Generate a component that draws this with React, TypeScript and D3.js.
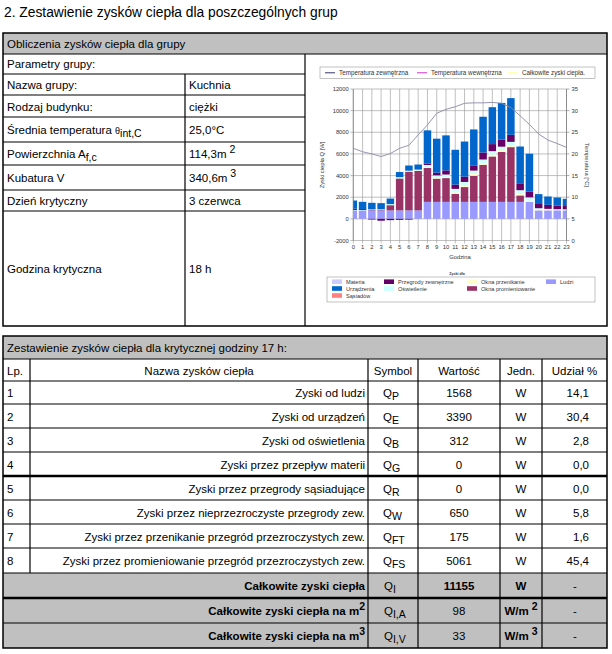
import React from "react";
import * as d3 from "d3";

const FONT = "'Liberation Sans', Arial, sans-serif";
const GRAY = "#c0c0c0";

// Dane wykresu: godziny i zyski ciepła [W] dla kolejnych składowych
const hours = [0, 1, 2, 3, 4, 5, 6, 7, 8, 9, 10, 11, 12, 13, 14, 15, 16, 17, 18, 19, 20, 21, 22, 23];
const ludzi = [784, 784, 784, 784, 784, 784, 784, 784, 1568, 1568, 1568, 1568, 1568, 1568, 1568, 1568, 1568, 1568, 1568, 1568, 784, 784, 784, 784];
const oknaProm = [0, 0, 60, 80, 480, 2950, 3570, 3650, 3130, 2150, 2200, 750, 1370, 2410, 3430, 4200, 4610, 5061, 600, 0, 0, 0, 0, 0];
const oknaPrzen = [0, 0, 0, 0, 0, 0, 20, 40, 60, 80, 100, 140, 160, 170, 175, 178, 180, 175, 170, 120, 60, 30, 10, 0];
const oswietl = [40, 40, 40, 40, 100, 120, 80, 80, 220, 220, 230, 312, 312, 312, 312, 312, 312, 312, 312, 300, 140, 110, 100, 100];
const przegrody = [120, 80, -60, -170, -120, -90, -70, 0, 120, 250, 380, 400, 490, 440, 650, 650, 650, 650, 580, 540, 460, 370, 340, 300];
const urzadzenia = [751, 670, 598, 549, 512, 472, 476, 466, 3080, 3140, 3237, 3212, 3245, 3362, 3300, 3410, 3394, 3390, 3455, 3490, 843, 771, 738, 668];
const materia = [0, 0, 0, 0, 0, 0, 0, 0, 0, 0, 0, 0, 0, 0, 0, 0, 0, 0, 0, 0, 0, 0, 0, 0];
const sasiadow = [0, 0, 0, 0, 0, 0, 0, 0, 0, 0, 0, 0, 0, 0, 0, 0, 0, 0, 0, 0, 0, 0, 0, 0];
// Temperatura zewnętrzna [°C]
const tempZew = [21.3, 20.5, 20.0, 19.4, 20.1, 21.3, 22.0, 24.4, 26.7, 29.4, 30.3, 30.9, 31.7, 31.8, 31.8, 31.9, 31.7, 30.7, 28.8, 26.8, 24.6, 23.2, 22.4, 21.5];

// kolejność stosu (od dołu)
const series = [
  { key: "ludzi", label: "Ludzi", color: "#9999ff", values: ludzi },
  { key: "oknaProm", label: "Okna promieniowanie", color: "#993366", values: oknaProm },
  { key: "oknaPrzen", label: "Okna przenikanie", color: "#ffffcc", values: oknaPrzen },
  { key: "oswietl", label: "Oświetlenie", color: "#ccffff", values: oswietl },
  { key: "przegrody", label: "Przegrody zewnętrzne", color: "#660066", values: przegrody },
  { key: "urzadzenia", label: "Urządzenia", color: "#0066cc", values: urzadzenia },
  { key: "materia", label: "Materia", color: "#ccccff", values: materia },
  { key: "sasiadow", label: "Sąsiadów", color: "#ff8080", values: sasiadow },
];

// układ legendy dolnej: [klucz, kolumna, wiersz]
const legendLayout = [
  ["materia", 0, 0], ["urzadzenia", 0, 1], ["sasiadow", 0, 2],
  ["przegrody", 1, 0], ["oswietl", 1, 1],
  ["oknaPrzen", 2, 0], ["oknaProm", 2, 1],
  ["ludzi", 3, 0],
];

const topLegend = [
  { label: "Temperatura zewnętrzna", color: "#333366" },
  { label: "Temperatura wewnętrzna", color: "#cc33cc" },
  { label: "Całkowite zyski ciepła.", color: "#ffff99" },
];

// Tabela parametrów grupy
const paramLabels = ["Nazwa grupy:", "Rodzaj budynku:", "Średnia temperatura", "Powierzchnia", "Kubatura V", "Dzień krytyczny", "Godzina krytyczna"];
const paramValues = ["Kuchnia", "ciężki", "25,0°C", "114,3m", "340,6m", "3 czerwca", "18 h"];

// Tabela zysków dla godziny krytycznej
const gainNames = [
  "Zyski od ludzi",
  "Zyski od urządzeń",
  "Zyski od oświetlenia",
  "Zyski przez przepływ materii",
  "Zyski przez przegrody sąsiadujące",
  "Zyski  przez nieprzezroczyste przegrody zew.",
  "Zyski przez przenikanie przegród przezroczystych  zew.",
  "Zyski przez promieniowanie przegród przezroczystych zew.",
];
const gainSymbols = ["P", "E", "B", "G", "R", "W", "FT", "FS"];
const gainValues = [1568, 3390, 312, 0, 0, 650, 175, 5061];
const gainShares = ["14,1", "30,4", "2,8", "0,0", "0,0", "5,8", "1,6", "45,4"];
const totalRows = [
  { name: "Całkowite zyski ciepła", sup: "", sym: "I", value: "11155", unit: "W", unitSup: "", bold: true },
  { name: "Całkowite zyski ciepła na m", sup: "2", sym: "I,A", value: "98", unit: "W/m", unitSup: "2", bold: false },
  { name: "Całkowite zyski ciepła na m", sup: "3", sym: "I,V", value: "33", unit: "W/m", unitSup: "3", bold: false },
];

const Chart = () => {
  const left = 353.3, right = 566.5, top = 89, bottom = 240.5;
  const x = d3.scalePoint<number>().domain(hours).range([left, right]);
  const yL = d3.scaleLinear().domain([-2000, 12000]).range([bottom, top]);
  const yR = d3.scaleLinear().domain([0, 35]).range([bottom, top]);

  const table = hours.map((h, i) => {
    const row: any = { hour: h };
    series.forEach((s) => (row[s.key] = s.values[i]));
    return row;
  });
  const stacked = d3
    .stack<any>()
    .keys(series.map((s) => s.key))
    .offset(d3.stackOffsetDiverging)(table);

  const bw = 7.5;
  const line = d3
    .line<number>()
    .x((_, i) => x(hours[i]) as number)
    .y((d) => yR(d));

  const tickColor = "#333";
  const gridColor = "#959595";
  const colX = [332, 384, 467, 546];
  const rowY = [281.7, 288.5, 295.5];

  return (
    <g fontFamily={FONT}>
      {/* legenda górna */}
      <rect x={320} y={67} width={275} height={11.5} fill="#fff" stroke="#999" strokeWidth={0.6} />
      {topLegend.map((d, i) => {
        const lx = [325, 417, 508][i];
        return (
          <g key={d.label}>
            <line x1={lx} x2={lx + 10} y1={72.8} y2={72.8} stroke={d.color} strokeWidth={1} />
            <text x={lx + 14} y={75} fontSize={6.3} fill="#333">{d.label}</text>
          </g>
        );
      })}

      {/* siatka */}
      {yL.ticks(7).map((t) => (
        <g key={"yl" + t}>
          <line x1={left - 3} x2={right} y1={yL(t)} y2={yL(t)} stroke={gridColor} strokeWidth={0.6} />
          <text x={left - 4.5} y={yL(t) + 2} fontSize={5.8} textAnchor="end" fill={tickColor}>{t}</text>
        </g>
      ))}
      {yR.ticks(7).map((t) => (
        <g key={"yr" + t}>
          <line x1={right} x2={right + 3} y1={yR(t)} y2={yR(t)} stroke="#777" strokeWidth={0.6} />
          <text x={right + 5} y={yR(t) + 2} fontSize={5.8} fill={tickColor}>{t}</text>
        </g>
      ))}
      {hours.map((h) => (
        <g key={"x" + h}>
          <line x1={x(h)} x2={x(h)} y1={top} y2={bottom + 3} stroke={gridColor} strokeWidth={0.6} />
          <text x={x(h)} y={bottom + 8.5} fontSize={5.8} textAnchor="middle" fill={tickColor}>{h}</text>
        </g>
      ))}
      <line x1={left} x2={left} y1={top} y2={bottom} stroke="#777" strokeWidth={0.7} />
      <line x1={right} x2={right} y1={top} y2={bottom} stroke="#777" strokeWidth={0.7} />

      {/* słupki */}
      <defs>
        <clipPath id="plot-clip">
          <rect x={left} y={top} width={right - left} height={bottom - top} />
        </clipPath>
      </defs>
      <g clipPath="url(#plot-clip)">
        {stacked.map((layer, li) =>
          layer.map((d, i) => {
            const y0 = yL(d[0]);
            const y1 = yL(d[1]);
            const hgt = Math.abs(y0 - y1);
            if (hgt <= 0) return null;
            return (
              <rect
                key={li + "-" + i}
                x={(x(hours[i]) as number) - bw / 2}
                y={Math.min(y0, y1)}
                width={bw}
                height={hgt}
                fill={series[li].color}
              />
            );
          })
        )}
        <path d={line(tempZew) || ""} fill="none" stroke="#8a8aa8" strokeWidth={0.9} />
      </g>

      {/* opisy osi */}
      <text transform="translate(323.5,165) rotate(-90)" fontSize={5.8} textAnchor="middle" fill={tickColor}>Zyski ciepła Q [W]</text>
      <text transform="translate(585,165) rotate(90)" fontSize={5.8} textAnchor="middle" fill={tickColor}>Temperatura [°C]</text>
      <text x={460} y={259} fontSize={5.8} textAnchor="middle" fill={tickColor}>Godzina</text>

      {/* legenda dolna */}
      <text x={457} y={274.5} fontSize={3.6} fontWeight="bold" textAnchor="middle" fill="#333">Zyski dla</text>
      <rect x={327} y={277} width={268} height={25} fill="#fff" stroke="#999" strokeWidth={0.6} />
      {legendLayout.map(([k, c, r]) => {
        const s = series.find((d) => d.key === k)!;
        const lx = colX[c as number];
        const ly = rowY[r as number];
        return (
          <g key={k as string}>
            <rect x={lx} y={ly - 2.3} width={10} height={4.6} fill={s.color} />
            <text x={lx + 14} y={ly + 2} fontSize={5.6} fill="#333">{s.label}</text>
          </g>
        );
      })}
    </g>
  );
};

const App = () => {
  const fs = 11.5;
  const paramRows = [74, 95, 117, 142, 165, 190, 211, 326];
  const gainRows = [381, 404, 428, 452, 476, 500, 524, 548, 573];
  const cols = [3, 30, 368, 418, 500, 542, 607];
  const headers = [
    { t: "Lp.", x: 7, a: "start" },
    { t: "Nazwa zysków ciepła", x: 199, a: "middle" },
    { t: "Symbol", x: 393, a: "middle" },
    { t: "Wartość", x: 459, a: "middle" },
    { t: "Jedn.", x: 521, a: "middle" },
    { t: "Udział %", x: 574.5, a: "middle" },
  ];
  const totalY = [573, 598, 623, 648];

  const paramValue = (i: number, yb: number) => {
    if (i === 3 || i === 4)
      return (
        <text x={189} y={yb} fontSize={fs}>
          {paramValues[i]}
          <tspan fontSize={10.5} dy={-5}> {i === 3 ? "2" : "3"}</tspan>
        </text>
      );
    return <text x={189} y={yb} fontSize={fs}>{paramValues[i]}</text>;
  };
  const paramLabel = (i: number, yb: number) => {
    if (i === 2)
      return (
        <text x={7} y={yb} fontSize={fs}>
          {paramLabels[i]} <tspan fontSize={9}>θ</tspan>
          <tspan fontSize={10.5} dy={3}>int,C</tspan>
        </text>
      );
    if (i === 3)
      return (
        <text x={7} y={yb} fontSize={fs}>
          {paramLabels[i]} A<tspan fontSize={10.5} dy={3}>f,c</tspan>
        </text>
      );
    return <text x={7} y={yb} fontSize={fs}>{paramLabels[i]}</text>;
  };

  return (
    <svg width={612} height={654} style={{ position: "absolute", left: 0, top: 0, background: "#fff" }} fontFamily={FONT}>
      <rect width={612} height={654} fill="#fff" />
      <text x={4} y={17} fontSize={13.8} fill="#000">2. Zestawienie zysków ciepła dla poszczególnych grup</text>

      {/* Blok 1 */}
      <rect x={3} y={33} width={604} height={21} fill={GRAY} />
      <text x={7} y={48} fontSize={fs}>Obliczenia zysków ciepła dla grupy</text>
      <text x={7} y={68} fontSize={fs}>Parametry grupy:</text>
      {paramRows.slice(0, -1).map((y0, i) => {
        const y1 = paramRows[i + 1];
        const yb = (y0 + y1) / 2 + 4.5;
        return (
          <g key={"p" + i}>
            {paramLabel(i, yb)}
            {paramValue(i, yb)}
          </g>
        );
      })}
      <g stroke="#000" strokeWidth={1.2}>
        <line x1={3} x2={607} y1={54} y2={54} />
        {paramRows.slice(0, -1).map((y) => (
          <line key={"pl" + y} x1={3} x2={305} y1={y} y2={y} />
        ))}
        <line x1={185} x2={185} y1={74} y2={326} />
        <line x1={305} x2={305} y1={54} y2={326} />
        <rect x={3} y={33} width={604} height={293} fill="none" strokeWidth={1.5} />
      </g>
      <Chart />

      {/* Blok 2 */}
      <rect x={3} y={336} width={604} height={23} fill={GRAY} />
      <rect x={3} y={573} width={604} height={75} fill={GRAY} />
      <text x={7} y={352} fontSize={fs}>Zestawienie zysków ciepła dla krytycznej godziny 17 h:</text>
      {headers.map((h) => (
        <text key={h.t} x={h.x} y={374.5} fontSize={fs} textAnchor={h.a as any}>{h.t}</text>
      ))}
      {gainNames.map((n, i) => {
        const yb = (gainRows[i] + gainRows[i + 1]) / 2 + 4.5;
        return (
          <g key={"g" + i}>
            <text x={7} y={yb} fontSize={fs}>{i + 1}</text>
            <text x={365} y={yb} fontSize={fs} textAnchor="end">{n}</text>
            <text x={383} y={yb} fontSize={fs}>
              Q<tspan fontSize={10.5} dy={3}>{gainSymbols[i]}</tspan>
            </text>
            <text x={459} y={yb} fontSize={fs} textAnchor="middle">{gainValues[i]}</text>
            <text x={521} y={yb} fontSize={fs} textAnchor="middle">W</text>
            <text x={589} y={yb} fontSize={fs} textAnchor="end">{gainShares[i]}</text>
          </g>
        );
      })}
      {totalRows.map((r, i) => {
        const yb = (totalY[i] + totalY[i + 1]) / 2 + 4.5;
        return (
          <g key={"t" + i} fontWeight="bold">
            <text x={365} y={yb} fontSize={fs} textAnchor="end">
              {r.name}
              {r.sup && <tspan fontSize={10.5} dy={-5}>{r.sup}</tspan>}
            </text>
            <text x={384} y={yb} fontSize={fs} fontWeight="normal">
              Q<tspan fontSize={10.5} dy={3}>{r.sym}</tspan>
            </text>
            <text x={459} y={yb} fontSize={fs} textAnchor="middle" fontWeight={r.bold ? "bold" : "normal"}>{r.value}</text>
            <text x={521} y={yb} fontSize={fs} textAnchor="middle">
              {r.unit}
              {r.unitSup && <tspan fontSize={10.5} dy={-5}> {r.unitSup}</tspan>}
            </text>
            <text x={575} y={yb} fontSize={fs} textAnchor="middle" fontWeight="normal">-</text>
          </g>
        );
      })}
      <g stroke="#000" strokeWidth={1.2}>
        <line x1={3} x2={607} y1={359} y2={359} />
        {gainRows.map((y) => (
          <line key={"gl" + y} x1={3} x2={607} y1={y} y2={y} strokeWidth={y === 476 ? 2.5 : 1.2} />
        ))}
        <line x1={3} x2={607} y1={598} y2={598} strokeWidth={2.5} />
        <line x1={3} x2={607} y1={623} y2={623} />
        <line x1={cols[1]} x2={cols[1]} y1={359} y2={573} />
        {cols.slice(2, -1).map((c) => (
          <line key={"c" + c} x1={c} x2={c} y1={359} y2={648} />
        ))}
        <rect x={3} y={336} width={604} height={312} fill="none" strokeWidth={1.5} />
      </g>
    </svg>
  );
};

export default App;
